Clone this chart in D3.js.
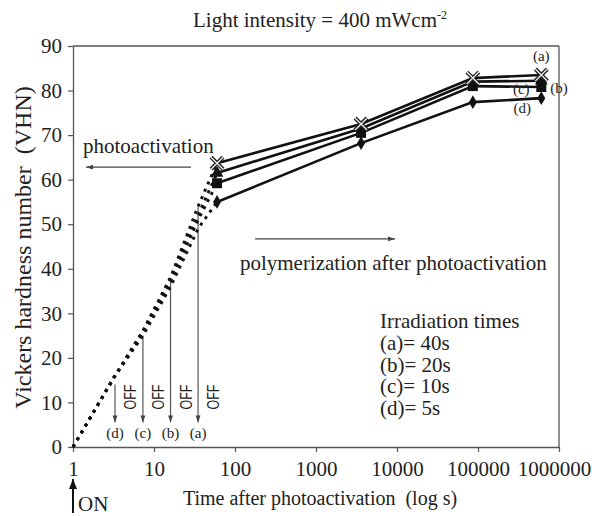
<!DOCTYPE html>
<html><head><meta charset="utf-8">
<script src="https://cdn.jsdelivr.net/npm/d3@7"></script>
<style>
body{margin:0;background:#fff;}
text{font-family:"Liberation Serif","Times New Roman",serif;fill:#222;white-space:pre;}
</style></head>
<body>
<script>
// ---- data ----
const xTicks = [1, 10, 100, 1000, 10000, 100000, 1000000];
const yTicks = [0, 10, 20, 30, 40, 50, 60, 70, 80, 90];
const seriesKeys = ["a", "b", "c", "d"];
const postTimes = [60, 3600, 86400, 604800];
const postA = [63.7, 72.5, 82.8, 83.5];
const postB = [61.5, 71.5, 82.0, 82.2];
const postC = [59.2, 70.5, 81.0, 80.8];
const postD = [55.0, 68.2, 77.4, 78.3];
const photoTimes = [1, 3.3, 7.3, 16, 35, 60];
const photoA = [0, 16, 26, 38, 54, 63.7];
const photoB = [0, 16, 26, 38, 52, 61.5];
const photoC = [0, 16, 25.5, 37, 51, 59.2];
const photoD = [0, 16, 25, 36, 49, 55];
const offTimes = [35, 16, 7.3, 3.3];
const offTop = [54, 37.5, 25, 14];
const offBottom = 5.5;
const legendLines = ["Irradiation times", "(a)= 40s", "(b)= 20s", "(c)= 10s", "(d)= 5s"];

const W = 592, H = 516;
const m = {l: 73, r: 33, t: 46, b: 69};
const svg = d3.select("body").append("svg").attr("width", W).attr("height", H);

const x = d3.scaleLog().domain([1, 1e6]).range([m.l, W - m.r]);
const y = d3.scaleLinear().domain([0, 90]).range([H - m.b, m.t]);

const defs = svg.append("defs");
defs.append("marker").attr("id", "ah").attr("viewBox", "0 0 10 10").attr("refX", 10).attr("refY", 5)
  .attr("markerWidth", 7).attr("markerHeight", 7).attr("markerUnits", "userSpaceOnUse").attr("orient", "auto")
  .append("path").attr("d", "M0,1.5L10,5L0,8.5Z").attr("fill", "#444");
defs.append("marker").attr("id", "ahOn").attr("viewBox", "0 0 10 10").attr("refX", 10).attr("refY", 5)
  .attr("markerWidth", 10).attr("markerHeight", 10).attr("markerUnits", "userSpaceOnUse").attr("orient", "auto")
  .append("path").attr("d", "M0,1L10,5L0,9Z").attr("fill", "#111");

// frame
svg.append("line").attr("x1", x(1)).attr("x2", x(1e6)).attr("y1", y(90)).attr("y2", y(90)).attr("stroke", "#555").attr("stroke-width", 1.3);
svg.append("line").attr("x1", x(1e6)).attr("x2", x(1e6)).attr("y1", y(90)).attr("y2", y(0)).attr("stroke", "#555").attr("stroke-width", 1.3);

// axes
const gx = svg.append("g").attr("transform", `translate(0,${y(0)})`)
  .call(d3.axisBottom(x).tickValues(xTicks).tickFormat(d3.format("d")).tickSize(5).tickSizeOuter(0).tickPadding(9));
const gy = svg.append("g").attr("transform", `translate(${x(1)},0)`)
  .call(d3.axisLeft(y).tickValues(yTicks).tickSize(5).tickSizeOuter(0).tickPadding(6));
[gx, gy].forEach(g => {
  g.attr("font-family", "Liberation Serif").attr("font-size", 21);
  g.select(".domain").attr("stroke", "#555").attr("stroke-width", 1.3);
  g.selectAll(".tick line").attr("stroke", "#555").attr("stroke-width", 1.2);
  g.selectAll(".tick text").attr("fill", "#222");
});
gx.selectAll(".tick text").filter(d => d === 1000000).attr("dx", -5);

// title
const title = svg.append("text").attr("x", 320).attr("y", 27).attr("text-anchor", "middle").style("font-size", "21px");
title.append("tspan").text("Light intensity = 400 mWcm");
title.append("tspan").text("-2").attr("dy", -8).style("font-size", "12px");

// axis titles
svg.append("text").attr("transform", `translate(31,${(y(0) + y(90)) / 2 + 1}) rotate(-90)`)
  .attr("text-anchor", "middle").style("font-size", "24px").text("Vickers hardness number  (VHN)");
svg.append("text").attr("x", 320).attr("y", 505).attr("text-anchor", "middle").style("font-size", "20px")
  .text("Time after photoactivation  (log s)");

// ON arrow
svg.append("line").attr("x1", x(1)).attr("x2", x(1)).attr("y1", 513).attr("y2", 479)
  .attr("stroke", "#111").attr("stroke-width", 2).attr("marker-end", "url(#ahOn)");
svg.append("text").attr("x", 78).attr("y", 511).style("font-size", "21px").text("ON");

// OFF arrows
const offLabels = ["(a)", "(b)", "(c)", "(d)"];
offTimes.forEach((t, i) => {
  svg.append("line").attr("x1", x(t)).attr("x2", x(t)).attr("y1", y(offTop[i])).attr("y2", y(offBottom))
    .attr("stroke", "#555").attr("stroke-width", 1.2).attr("marker-end", "url(#ah)");
  svg.append("text").attr("x", x(t)).attr("y", y(0) - 9).attr("text-anchor", "middle").style("font-size", "15px").text(offLabels[i]);
  svg.append("text").attr("transform", `translate(${x(t) + 21},${y(11.2)}) rotate(-90)`).attr("text-anchor", "middle")
    .attr("textLength", 25).attr("lengthAdjust", "spacingAndGlyphs")
    .style("font-family", "Liberation Sans Narrow, Liberation Sans, sans-serif").style("font-size", "17px").text("OFF");
});

// annotations
svg.append("text").attr("x", x(1.33)).attr("y", y(66)).style("font-size", "21px").text("photoactivation");
svg.append("line").attr("x1", x(28.6)).attr("x2", x(1.45)).attr("y1", y(62.8)).attr("y2", y(62.8))
  .attr("stroke", "#444").attr("stroke-width", 1.3).attr("marker-end", "url(#ah)");
svg.append("text").attr("x", x(115)).attr("y", y(39.7)).style("font-size", "21px").text("polymerization after photoactivation");
svg.append("line").attr("x1", x(177)).attr("x2", x(9440)).attr("y1", y(46.7)).attr("y2", y(46.7))
  .attr("stroke", "#444").attr("stroke-width", 1.3).attr("marker-end", "url(#ah)");

// legend text
legendLines.forEach((s, i) => {
  svg.append("text").attr("x", x(6170)).attr("y", y(26.7) + i * 21.8).style("font-size", "21px").text(s);
});

// data lines
const line = d3.line().x(d => x(d[0])).y(d => y(d[1]));
const photo = {a: photoA, b: photoB, c: photoC, d: photoD};
const post = {a: postA, b: postB, c: postC, d: postD};
seriesKeys.forEach(k => {
  svg.append("path").attr("d", line(photoTimes.map((t, i) => [t, photo[k][i]])))
    .attr("fill", "none").attr("stroke", "#111").attr("stroke-width", 3).attr("stroke-dasharray", "3,5");
});
seriesKeys.forEach(k => {
  svg.append("path").attr("d", line(postTimes.map((t, i) => [t, post[k][i]])))
    .attr("fill", "none").attr("stroke", "#111").attr("stroke-width", 2.6);
});

// markers (draw d first, a last)
const sym = {b: d3.symbol(d3.symbolTriangle, 70), c: d3.symbol(d3.symbolSquare, 100), d: d3.symbol(d3.symbolDiamond, 55)};
["d", "c", "b"].forEach(k => {
  postTimes.forEach((t, i) => {
    svg.append("path").attr("d", sym[k]()).attr("transform", `translate(${x(t)},${y(post[k][i])})`).attr("fill", "#111");
  });
});
postTimes.forEach((t, i) => {
  const cx = x(t), cy = y(postA[i]), r = 6;
  const p = `M${cx - r},${cy - r}L${cx + r},${cy + r}M${cx - r},${cy + r}L${cx + r},${cy - r}`;
  svg.append("path").attr("d", p).attr("stroke", "#222").attr("stroke-width", 4);
  svg.append("path").attr("d", p).attr("stroke", "#eee").attr("stroke-width", 1.3);
});

// series labels at right end
const last = postTimes.length - 1;
const tl = postTimes[last];
svg.append("text").attr("x", x(tl)).attr("y", y(postA[last]) - 14).attr("text-anchor", "middle").style("font-size", "15px").text("(a)");
svg.append("text").attr("x", x(tl) + 9).attr("y", y(postB[last]) + 12).style("font-size", "15px").text("(b)");
svg.append("text").attr("x", x(tl) - 20).attr("y", y(postC[last]) + 7).attr("text-anchor", "middle").style("font-size", "15px").text("(c)");
svg.append("text").attr("x", x(tl) - 19).attr("y", y(postD[last]) + 15).attr("text-anchor", "middle").style("font-size", "15px").text("(d)");
</script>
</body></html>
